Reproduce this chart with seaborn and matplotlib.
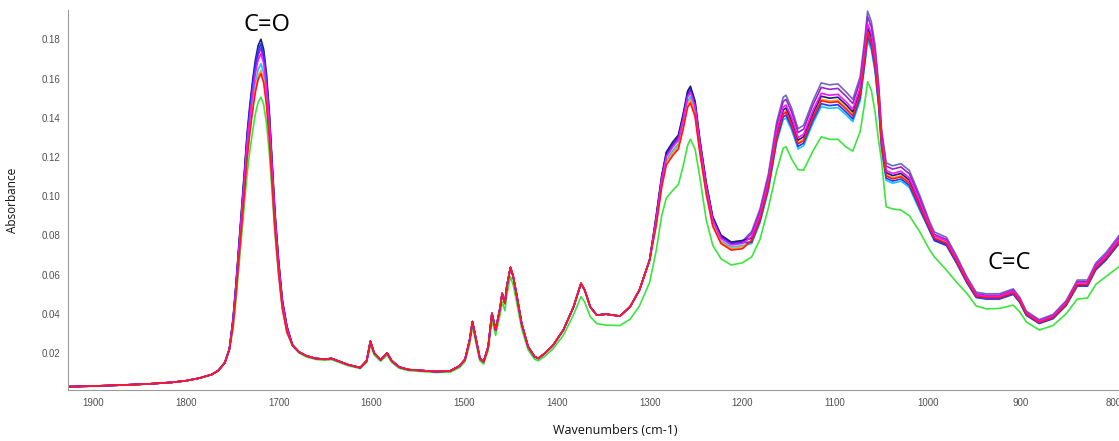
import matplotlib
matplotlib.use("Agg")
import matplotlib.pyplot as plt
import pandas as pd
import seaborn as sns
from matplotlib.ticker import MultipleLocator, FormatStrFormatter

# ---------------------------------------------------------------------------
# FTIR absorbance spectra (wavenumbers in cm-1), nine samples.
# Region A: baseline, identical for all samples
wn_a = [1927, 1900, 1870, 1840, 1815, 1800, 1785, 1772, 1765, 1758, 1753]
abs_a = [0.0028, 0.0031, 0.0036, 0.0042, 0.0050, 0.0058, 0.0072, 0.0090,
         0.0110, 0.0150, 0.0220]

# Region B: carbonyl band
wn_b = [1749, 1746, 1743, 1740, 1737, 1734, 1731, 1728, 1725, 1722, 1719,
        1716, 1713, 1710, 1707, 1704, 1700, 1696, 1691]

# Region C: fingerprint 1685-1300 (all samples except S9 overlap here)
wn_c = [1685, 1678, 1670, 1660, 1650, 1643, 1635, 1625, 1612, 1605, 1601,
        1597, 1590, 1583, 1578, 1570, 1560, 1545, 1530, 1515, 1505, 1499,
        1494, 1491, 1487, 1483, 1479, 1474, 1470, 1466, 1461, 1459, 1456,
        1454, 1450, 1447, 1443, 1438, 1431, 1424, 1420, 1413, 1404, 1393,
        1382, 1374, 1370, 1364, 1357, 1347, 1332, 1321, 1311, 1300]
abs_c_common = [0.0240, 0.0205, 0.0185, 0.0172, 0.0168, 0.0172, 0.0158, 0.0140,
                0.0125, 0.0160, 0.0260, 0.0200, 0.0165, 0.0200, 0.0160, 0.0128,
                0.0115, 0.0110, 0.0105, 0.0108, 0.0134, 0.0167, 0.0266, 0.0360,
                0.0266, 0.0172, 0.0155, 0.0232, 0.0402, 0.0317, 0.0435, 0.0504,
                0.0453, 0.0538, 0.0637, 0.0589, 0.0487, 0.0351, 0.0232, 0.0181,
                0.0172, 0.0198, 0.0240, 0.0317, 0.0435, 0.0555, 0.0521, 0.0435,
                0.0393, 0.0398, 0.0388, 0.0436, 0.0521, 0.0674]
abs_c_s9 = [0.0235, 0.0200, 0.0180, 0.0167, 0.0163, 0.0166, 0.0152, 0.0135,
            0.0120, 0.0152, 0.0240, 0.0190, 0.0158, 0.0188, 0.0152, 0.0122,
            0.0110, 0.0105, 0.0100, 0.0102, 0.0125, 0.0155, 0.0245, 0.0335,
            0.0245, 0.0160, 0.0143, 0.0212, 0.0368, 0.0290, 0.0400, 0.0462,
            0.0415, 0.0495, 0.0590, 0.0545, 0.0450, 0.0325, 0.0215, 0.0168,
            0.0160, 0.0183, 0.0222, 0.0290, 0.0395, 0.0487, 0.0460, 0.0385,
            0.0350, 0.0342, 0.0340, 0.0372, 0.0440, 0.0560]

# Region D: C-O stretch region down to 794 cm-1
wn_d = [1293, 1287, 1282, 1275, 1269, 1264, 1259, 1256, 1251, 1246, 1239,
        1232, 1223, 1212, 1200, 1190, 1181, 1172, 1163, 1156, 1153, 1147,
        1140, 1134, 1124, 1115, 1106, 1097, 1088, 1081, 1073, 1068, 1065,
        1061, 1057, 1053, 1050, 1045, 1038, 1029, 1020, 1009, 998, 993, 980,
        969, 958, 948, 937, 923, 908, 901, 894, 880, 865, 851, 839, 828, 819,
        808, 794]

# Per-sample absorbances in regions B and D
s1_b = [0.0379, 0.0548, 0.0737, 0.0927, 0.1116, 0.1316, 0.1464, 0.1590, 0.1695,
        0.1769, 0.1801, 0.1748, 0.1622, 0.1432, 0.1179, 0.0927, 0.0674, 0.0474,
        0.0337]
s1_d = [0.0896, 0.1104, 0.1225, 0.1277, 0.1312, 0.1416, 0.1537, 0.1561, 0.1485,
        0.1294, 0.1069, 0.0896, 0.0801, 0.0766, 0.0774,
        0.0785, 0.0895, 0.1065, 0.1320, 0.1440, 0.1450, 0.1388, 0.1286, 0.1303,
        0.1422, 0.1510, 0.1500, 0.1505, 0.1465, 0.1430, 0.1541, 0.1729, 0.1860,
        0.1810, 0.1694, 0.1500, 0.1286, 0.1120, 0.1105, 0.1116, 0.1082, 0.0963,
        0.0830, 0.0781, 0.0755, 0.0664, 0.0563, 0.0488, 0.0480, 0.0480, 0.0504,
        0.0463, 0.0396, 0.0354, 0.0379, 0.0446, 0.0547, 0.0547, 0.0630, 0.0681,
        0.0764]

s2_b = [0.0374, 0.0541, 0.0728, 0.0915, 0.1102, 0.1300, 0.1446, 0.1570, 0.1674,
        0.1747, 0.1778, 0.1726, 0.1602, 0.1414, 0.1165, 0.0915, 0.0666, 0.0468,
        0.0333]
s2_d = [0.0882, 0.1087, 0.1207, 0.1258, 0.1292, 0.1395, 0.1515, 0.1538, 0.1463,
        0.1275, 0.1053, 0.0882, 0.0789, 0.0755, 0.0763,
        0.0765, 0.0873, 0.1038, 0.1287, 0.1404, 0.1414, 0.1353, 0.1254, 0.1270,
        0.1386, 0.1472, 0.1462, 0.1467, 0.1428, 0.1394, 0.1502, 0.1686, 0.1814,
        0.1765, 0.1652, 0.1462, 0.1254, 0.1092, 0.1077, 0.1088, 0.1055, 0.0939,
        0.0822, 0.0773, 0.0748, 0.0657, 0.0558, 0.0483, 0.0475, 0.0475, 0.0499,
        0.0458, 0.0392, 0.0350, 0.0375, 0.0442, 0.0541, 0.0541, 0.0624, 0.0674,
        0.0757]

s3_b = [0.0371, 0.0536, 0.0721, 0.0906, 0.1092, 0.1288, 0.1432, 0.1555, 0.1658,
        0.1730, 0.1761, 0.1710, 0.1586, 0.1401, 0.1154, 0.0906, 0.0659, 0.0464,
        0.0330]
s3_d = [0.0891, 0.1098, 0.1219, 0.1271, 0.1305, 0.1409, 0.1530, 0.1553, 0.1478,
        0.1288, 0.1064, 0.0891, 0.0797, 0.0762, 0.0770,
        0.0820, 0.0935, 0.1113, 0.1379, 0.1505, 0.1515, 0.1450, 0.1344, 0.1362,
        0.1486, 0.1578, 0.1568, 0.1573, 0.1531, 0.1494, 0.1610, 0.1807, 0.1944,
        0.1891, 0.1770, 0.1568, 0.1344, 0.1170, 0.1155, 0.1166, 0.1131, 0.1006,
        0.0868, 0.0817, 0.0790, 0.0694, 0.0589, 0.0510, 0.0502, 0.0502, 0.0527,
        0.0484, 0.0414, 0.0370, 0.0397, 0.0467, 0.0572, 0.0572, 0.0659, 0.0712,
        0.0799]

s4_b = [0.0369, 0.0533, 0.0718, 0.0902, 0.1087, 0.1281, 0.1425, 0.1548, 0.1650,
        0.1722, 0.1753, 0.1702, 0.1579, 0.1394, 0.1148, 0.0902, 0.0656, 0.0461,
        0.0328]
s4_d = [0.0887, 0.1093, 0.1213, 0.1265, 0.1299, 0.1402, 0.1522, 0.1545, 0.1471,
        0.1282, 0.1058, 0.0887, 0.0793, 0.0759, 0.0767,
        0.0809, 0.0922, 0.1097, 0.1360, 0.1483, 0.1494, 0.1430, 0.1325, 0.1342,
        0.1465, 0.1555, 0.1545, 0.1550, 0.1509, 0.1473, 0.1587, 0.1781, 0.1916,
        0.1864, 0.1745, 0.1545, 0.1325, 0.1154, 0.1138, 0.1149, 0.1114, 0.0992,
        0.0856, 0.0805, 0.0779, 0.0684, 0.0581, 0.0502, 0.0494, 0.0494, 0.0520,
        0.0477, 0.0408, 0.0364, 0.0391, 0.0460, 0.0563, 0.0563, 0.0650, 0.0701,
        0.0788]

s5_b = [0.0364, 0.0525, 0.0707, 0.0889, 0.1071, 0.1263, 0.1404, 0.1525, 0.1626,
        0.1697, 0.1727, 0.1677, 0.1555, 0.1374, 0.1131, 0.0889, 0.0646, 0.0455,
        0.0323]
s5_d = [0.0878, 0.1082, 0.1201, 0.1252, 0.1286, 0.1388, 0.1507, 0.1530, 0.1456,
        0.1269, 0.1048, 0.0878, 0.0785, 0.0751, 0.0759,
        0.0793, 0.0904, 0.1076, 0.1333, 0.1454, 0.1465, 0.1402, 0.1299, 0.1316,
        0.1436, 0.1525, 0.1515, 0.1520, 0.1480, 0.1444, 0.1556, 0.1746, 0.1879,
        0.1828, 0.1711, 0.1515, 0.1299, 0.1131, 0.1116, 0.1127, 0.1093, 0.0973,
        0.0847, 0.0797, 0.0771, 0.0677, 0.0575, 0.0497, 0.0489, 0.0489, 0.0515,
        0.0472, 0.0404, 0.0361, 0.0387, 0.0455, 0.0558, 0.0558, 0.0643, 0.0694,
        0.0780]

s6_b = [0.0353, 0.0510, 0.0686, 0.0862, 0.1039, 0.1225, 0.1362, 0.1480, 0.1578,
        0.1646, 0.1676, 0.1627, 0.1509, 0.1333, 0.1098, 0.0862, 0.0627, 0.0441,
        0.0314]
s6_d = [0.0865, 0.1066, 0.1183, 0.1233, 0.1267, 0.1367, 0.1484, 0.1507, 0.1434,
        0.1250, 0.1032, 0.0865, 0.0773, 0.0740, 0.0748,
        0.0758, 0.0864, 0.1028, 0.1274, 0.1390, 0.1399, 0.1339, 0.1241, 0.1257,
        0.1372, 0.1457, 0.1448, 0.1452, 0.1414, 0.1380, 0.1487, 0.1668, 0.1795,
        0.1747, 0.1635, 0.1448, 0.1241, 0.1081, 0.1066, 0.1077, 0.1044, 0.0929,
        0.0826, 0.0777, 0.0752, 0.0661, 0.0561, 0.0485, 0.0477, 0.0477, 0.0502,
        0.0461, 0.0394, 0.0352, 0.0377, 0.0444, 0.0544, 0.0544, 0.0627, 0.0677,
        0.0760]

s7_b = [0.0346, 0.0499, 0.0672, 0.0845, 0.1018, 0.1200, 0.1334, 0.1450, 0.1546,
        0.1613, 0.1642, 0.1594, 0.1478, 0.1306, 0.1075, 0.0845, 0.0614, 0.0432,
        0.0307]
s7_d = [0.0856, 0.1055, 0.1171, 0.1221, 0.1254, 0.1353, 0.1469, 0.1492, 0.1420,
        0.1237, 0.1022, 0.0856, 0.0765, 0.0732, 0.0740,
        0.0777, 0.0886, 0.1054, 0.1307, 0.1426, 0.1436, 0.1374, 0.1273, 0.1290,
        0.1408, 0.1495, 0.1485, 0.1490, 0.1450, 0.1416, 0.1526, 0.1712, 0.1841,
        0.1792, 0.1677, 0.1485, 0.1273, 0.1109, 0.1094, 0.1105, 0.1071, 0.0953,
        0.0839, 0.0789, 0.0763, 0.0671, 0.0569, 0.0493, 0.0485, 0.0485, 0.0509,
        0.0468, 0.0400, 0.0357, 0.0383, 0.0451, 0.0552, 0.0552, 0.0637, 0.0688,
        0.0772]

s8_b = [0.0342, 0.0494, 0.0665, 0.0836, 0.1007, 0.1188, 0.1321, 0.1435, 0.1530,
        0.1596, 0.1625, 0.1577, 0.1463, 0.1292, 0.1064, 0.0836, 0.0608, 0.0428,
        0.0304]
s8_d = [0.0847, 0.1044, 0.1159, 0.1208, 0.1241, 0.1339, 0.1454, 0.1476, 0.1405,
        0.1225, 0.1011, 0.0847, 0.0758, 0.0725, 0.0732,
        0.0773, 0.0882, 0.1049, 0.1300, 0.1418, 0.1428, 0.1367, 0.1267, 0.1283,
        0.1401, 0.1487, 0.1478, 0.1482, 0.1443, 0.1409, 0.1518, 0.1703, 0.1832,
        0.1783, 0.1669, 0.1478, 0.1267, 0.1103, 0.1088, 0.1099, 0.1066, 0.0949,
        0.0835, 0.0785, 0.0759, 0.0667, 0.0566, 0.0490, 0.0482, 0.0482, 0.0507,
        0.0465, 0.0398, 0.0355, 0.0381, 0.0448, 0.0549, 0.0549, 0.0634, 0.0684,
        0.0768]

s9_b = [0.0320, 0.0465, 0.0630, 0.0790, 0.0950, 0.1110, 0.1230, 0.1330, 0.1420,
        0.1480, 0.1505, 0.1465, 0.1370, 0.1220, 0.1020, 0.0810, 0.0600, 0.0430,
        0.0310]
s9_d = [0.0720, 0.0900, 0.0990, 0.1030, 0.1060, 0.1150, 0.1260, 0.1290, 0.1240,
        0.1100, 0.0880, 0.0750, 0.0680, 0.0649, 0.0660,
        0.0690, 0.0780, 0.0940, 0.1130, 0.1245, 0.1252, 0.1190, 0.1135, 0.1133,
        0.1230, 0.1303, 0.1290, 0.1290, 0.1250, 0.1230, 0.1330, 0.1480, 0.1584,
        0.1540, 0.1430, 0.1280, 0.1180, 0.0946, 0.0935, 0.0929, 0.0900, 0.0820,
        0.0725, 0.0690, 0.0623, 0.0560, 0.0504, 0.0440, 0.0425, 0.0427, 0.0444,
        0.0410, 0.0359, 0.0317, 0.0340, 0.0400, 0.0475, 0.0480, 0.0550, 0.0590,
        0.0640]

samples = ["S1", "S2", "S3", "S4", "S5", "S6", "S7", "S8", "S9"]
sample_colors = ["#1c1c7c", "#2038ff", "#7068c0", "#9a22d0", "#ff10ff",
                 "#10c8ff", "#ffa020", "#ff1818", "#3be63b"]
band_b = {"S1": s1_b, "S2": s2_b, "S3": s3_b, "S4": s4_b, "S5": s5_b,
          "S6": s6_b, "S7": s7_b, "S8": s8_b, "S9": s9_b}
band_d = {"S1": s1_d, "S2": s2_d, "S3": s3_d, "S4": s4_d, "S5": s5_d,
          "S6": s6_d, "S7": s7_d, "S8": s8_d, "S9": s9_d}

# ---------------------------------------------------------------------------
wn_all = wn_a + wn_b + wn_c + wn_d
rows = []
for s in samples:
    c_part = abs_c_s9 if s == "S9" else abs_c_common
    values = abs_a + band_b[s] + c_part + band_d[s]
    for w, v in zip(wn_all, values):
        rows.append({"sample": s, "wavenumber": w, "absorbance": v})
df = pd.DataFrame(rows)

sns.set_theme(style="white")
plt.rcParams["font.family"] = ["Liberation Sans", "DejaVu Sans"]

W, H = 1119, 441
fig = plt.figure(figsize=(W / 100, H / 100), dpi=100)
ax = fig.add_axes([68 / W, 51 / H, 1 - 68 / W, 380 / H])

draw_order = ["S9", "S6", "S7", "S3", "S4", "S1", "S2", "S5", "S8"]
palette = dict(zip(samples, sample_colors))
sns.lineplot(data=df, x="wavenumber", y="absorbance", hue="sample",
             hue_order=draw_order, palette=palette, estimator=None,
             sort=False, legend=False, linewidth=1.2, ax=ax)

ax.set_xlim(1927, 794)
ax.set_ylim(0.0011, 0.195)

ax.xaxis.set_major_locator(MultipleLocator(100))
ax.xaxis.set_minor_locator(MultipleLocator(25))
ax.yaxis.set_major_locator(MultipleLocator(0.02))
ax.yaxis.set_minor_locator(MultipleLocator(0.002))
ax.yaxis.set_major_formatter(FormatStrFormatter("%.2f"))

for side in ("top", "right"):
    ax.spines[side].set_visible(False)
for side in ("left", "bottom"):
    ax.spines[side].set_color("#9a9a9a")
    ax.spines[side].set_linewidth(0.8)

ax.tick_params(axis="both", which="major", direction="inout", length=5,
               width=0.8, color="#8a8a8a", labelsize=7, labelcolor="#505050",
               pad=3)
ax.tick_params(axis="both", which="minor", direction="inout", length=3,
               width=0.6, color="#a0a0a0")

ax.set_xlabel("")
ax.set_ylabel("Absorbance", fontsize=8.5, color="#111111",
              family=["Open Sans", "DejaVu Sans"])
ax.yaxis.set_label_coords(-0.047, 0.5)
fig.text(615 / W, 1 - 431 / H, "Wavenumbers (cm-1)", ha="center", va="center",
         fontsize=9, color="#111111", family=["Open Sans", "DejaVu Sans"])

ax.text(1713, 0.1873, "C=O", ha="center", va="center", fontsize=17,
        color="black", family=["Open Sans", "DejaVu Sans"])
ax.text(912, 0.0659, "C=C", ha="center", va="center", fontsize=17,
        color="black", family=["Open Sans", "DejaVu Sans"])

fig.savefig("out.png", dpi=100, facecolor="white")
